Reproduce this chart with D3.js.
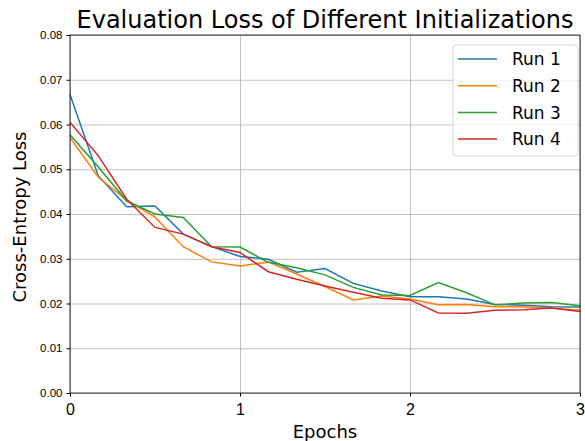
<!DOCTYPE html>
<html>
<head>
<meta charset="utf-8">
<script src="https://cdn.jsdelivr.net/npm/d3@7"></script>
<style>
  body { margin: 0; background: #fff; }
  svg { font-family: "DejaVu Sans", sans-serif; }
  .grid line { stroke: #b0b0b0; stroke-width: 0.8; }
  .grid path { display: none; }
</style>
</head>
<body>
<div class="chart-area"></div>
<script>
// evaluation steps, every 1/6 epoch
var epochs = [0, 1/6, 2/6, 3/6, 4/6, 5/6, 1, 7/6, 8/6, 9/6, 10/6, 11/6, 2, 13/6, 14/6, 15/6, 16/6, 17/6, 3];

var run1 = [0.0667, 0.0485, 0.0416, 0.0418, 0.0355, 0.0327, 0.0305, 0.0299, 0.0270, 0.0278,
            0.0245, 0.0228, 0.0215, 0.0215, 0.0210, 0.0198, 0.0196, 0.0193, 0.0192];
var run2 = [0.0571, 0.0482, 0.0431, 0.0393, 0.0327, 0.0293, 0.0284, 0.0293, 0.0266, 0.0238,
            0.0208, 0.0217, 0.0210, 0.0197, 0.0198, 0.0193, 0.0192, 0.0190, 0.0185];
var run3 = [0.0577, 0.0505, 0.0429, 0.0400, 0.0392, 0.0327, 0.0326, 0.0292, 0.0280, 0.0264,
            0.0236, 0.0219, 0.0218, 0.0247, 0.0224, 0.0197, 0.0201, 0.0202, 0.0195];
var run4 = [0.0605, 0.0530, 0.0433, 0.0370, 0.0355, 0.0327, 0.0314, 0.0271, 0.0254, 0.0239,
            0.0225, 0.0212, 0.0208, 0.0179, 0.0178, 0.0185, 0.0186, 0.0190, 0.0182];

var runNames = ["Run 1", "Run 2", "Run 3", "Run 4"];
var runColors = ["#1f77b4", "#ff7f0e", "#2ca02c", "#d62728"];
var xTicks = [0, 1, 2, 3];
var yTicks = [0, 0.01, 0.02, 0.03, 0.04, 0.05, 0.06, 0.07, 0.08];

var series = [run1, run2, run3, run4].map(function(vals, i) {
    return { name: runNames[i], color: runColors[i],
             values: vals.map(function(v, j) { return { e: epochs[j], loss: v }; }) };
});

var margin = {top: 35, right: 5, bottom: 48, left: 70},
    width = 585 - margin.left - margin.right,
    height = 441 - margin.top - margin.bottom;

var svg = d3.select(".chart-area").append("svg")
    .attr("width", 585)
    .attr("height", 441)
  .append("g")
    .attr("transform", "translate(" + margin.left + "," + margin.top + ")");

var x = d3.scaleLinear().domain([0, 3]).range([0, width]);
var y = d3.scaleLinear().domain([0, 0.08]).range([height, 0]);

// grid
svg.append("g")
    .attr("class", "grid")
    .call(d3.axisLeft(y).tickValues(yTicks).tickSize(-width).tickFormat(""));
svg.append("g")
    .attr("class", "grid")
    .attr("transform", "translate(0," + height + ")")
    .call(d3.axisBottom(x).tickValues(xTicks).tickSize(-height).tickFormat(""));

// lines
var line = d3.line()
    .x(function(d) { return x(d.e); })
    .y(function(d) { return y(d.loss); });

svg.selectAll(".run")
    .data(series)
  .enter().append("path")
    .attr("class", "run")
    .attr("fill", "none")
    .attr("stroke", function(d) { return d.color; })
    .attr("stroke-width", 1.5)
    .attr("d", function(d) { return line(d.values); });

// frame
svg.append("rect")
    .attr("width", width)
    .attr("height", height)
    .attr("fill", "none")
    .attr("stroke", "#000")
    .attr("stroke-width", 0.8);

// axes
var xAxis = svg.append("g")
    .attr("transform", "translate(0," + height + ")")
    .call(d3.axisBottom(x).tickValues(xTicks).tickSize(3.5).tickSizeOuter(0).tickFormat(d3.format("d")));
xAxis.select(".domain").remove();
xAxis.selectAll("text").style("font-size", "16px").attr("fill", "#000").attr("y", 22).attr("dy", 0);

var yAxis = svg.append("g")
    .call(d3.axisLeft(y).tickValues(yTicks).tickSize(3.5).tickSizeOuter(0).tickFormat(d3.format(".2f")));
yAxis.select(".domain").remove();
yAxis.selectAll("text").style("font-size", "11.5px").attr("fill", "#000").attr("x", -7.5);

// axis labels
svg.append("text")
    .attr("x", width / 2)
    .attr("y", height + 44.5)
    .attr("text-anchor", "middle")
    .style("font-size", "18px")
    .text("Epochs");

svg.append("text")
    .attr("transform", "rotate(-90)")
    .attr("x", -height / 2 - 3)
    .attr("y", -44)
    .attr("text-anchor", "middle")
    .style("font-size", "18px")
    .text("Cross-Entropy Loss");

// title
svg.append("text")
    .attr("x", width / 2)
    .attr("y", -7.5)
    .attr("text-anchor", "middle")
    .style("font-size", "24px")
    .text("Evaluation Loss of Different Initializations");

// legend
var legend = svg.append("g")
    .attr("transform", "translate(" + (width - 127) + ",10)");

legend.append("rect")
    .attr("width", 125)
    .attr("height", 111)
    .attr("rx", 3)
    .attr("fill", "#fff")
    .attr("fill-opacity", 0.8)
    .attr("stroke", "#cccccc")
    .attr("stroke-width", 0.8);

var item = legend.selectAll(".item")
    .data(series)
  .enter().append("g")
    .attr("transform", function(d, i) { return "translate(0," + (14 + i * 26.7) + ")"; });

item.append("line")
    .attr("x1", 5).attr("x2", 44)
    .attr("stroke", function(d) { return d.color; })
    .attr("stroke-width", 1.5);

item.append("text")
    .attr("x", 59)
    .attr("dy", "0.36em")
    .style("font-size", "17px")
    .text(function(d) { return d.name; });
</script>
</body>
</html>
